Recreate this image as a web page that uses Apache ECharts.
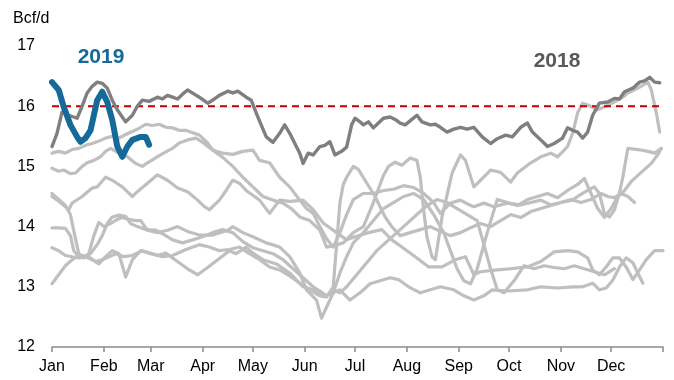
<!DOCTYPE html>
<html>
<head>
<meta charset="utf-8">
<script src="https://cdn.jsdelivr.net/npm/echarts@6/dist/echarts.min.js"></script>
<style>
  html, body { margin: 0; padding: 0; background: #ffffff; }
  #chart { width: 674px; height: 380px; }
</style>
</head>
<body>
<div id="chart"></div>
<script>
// Month axis: labels sit on the first day of each month (day-of-year, 0-based)
const monthLabels = ['Jan', 'Feb', 'Mar', 'Apr', 'May', 'Jun', 'Jul', 'Aug', 'Sep', 'Oct', 'Nov', 'Dec'];
const monthStartDays = [0, 31, 59, 90, 120, 151, 181, 212, 243, 273, 304, 334];
const yearEndDay = 365;

// Value axis range (Bcf/d)
const yMin = 12;
const yMax = 17;
const yStep = 1;

// Reference level drawn as a dashed line
const referenceLevel = 16;

// Current year, [day, Bcf/d]
const year2019 = [
  [0, 16.4], [4, 16.27], [7, 15.99], [11, 15.69], [15, 15.49], [17, 15.41], [20, 15.47],
  [23, 15.6], [25, 15.85], [27, 16.1], [30, 16.24], [33, 16.07], [36, 15.77], [39, 15.33],
  [42, 15.16], [45, 15.33], [48, 15.44], [53, 15.49], [56, 15.49], [58, 15.36]
];

// Previous year, [day, Bcf/d]
const year2018 = [
  [0, 15.33], [3, 15.55], [6, 15.9], [10, 15.85], [15, 15.8], [18, 16.0], [21, 16.22],
  [24, 16.33], [27, 16.4], [30, 16.38], [33, 16.3], [36, 16.1], [39, 15.94], [44, 15.74],
  [48, 15.85], [51, 16.0], [54, 16.1], [58, 16.08], [63, 16.15], [66, 16.12], [69, 16.18],
  [72, 16.15], [75, 16.12], [78, 16.2], [81, 16.27], [85, 16.2], [88, 16.15], [93, 16.05],
  [97, 16.12], [100, 16.18], [105, 16.25], [108, 16.22], [111, 16.25], [116, 16.15],
  [119, 16.1], [123, 15.82], [128, 15.49], [132, 15.4], [136, 15.55], [139, 15.69],
  [142, 15.55], [148, 15.22], [150, 15.05], [153, 15.22], [156, 15.19], [160, 15.33],
  [163, 15.35], [166, 15.41], [169, 15.19], [173, 15.25], [176, 15.32], [179, 15.69],
  [181, 15.8], [184, 15.74], [186, 15.69], [189, 15.74], [192, 15.64], [195, 15.72],
  [198, 15.8], [202, 15.82], [205, 15.78], [208, 15.72], [211, 15.69], [215, 15.78],
  [218, 15.85], [221, 15.74], [226, 15.69], [229, 15.7], [232, 15.65], [236, 15.57],
  [240, 15.62], [244, 15.65], [248, 15.62], [252, 15.65], [257, 15.49], [262, 15.38],
  [266, 15.46], [271, 15.52], [275, 15.49], [280, 15.65], [284, 15.72], [287, 15.57],
  [292, 15.44], [296, 15.33], [300, 15.38], [305, 15.47], [308, 15.64], [311, 15.6],
  [314, 15.57], [317, 15.47], [320, 15.57], [323, 15.85], [327, 16.05], [332, 16.07],
  [336, 16.13], [339, 16.12], [342, 16.24], [347, 16.3], [351, 16.4], [354, 16.42],
  [357, 16.48], [360, 16.4], [363, 16.39]
];

// Earlier years, [day, Bcf/d]
const prior1 = [
  [0, 15.22], [4, 15.25], [8, 15.22], [12, 15.28], [16, 15.3], [20, 15.35], [24, 15.38],
  [28, 15.42], [32, 15.47], [36, 15.5], [40, 15.47], [44, 15.53], [48, 15.58], [52, 15.63],
  [56, 15.7], [60, 15.68], [64, 15.7], [68, 15.65], [72, 15.64], [76, 15.6], [80, 15.6],
  [84, 15.56], [88, 15.52], [93, 15.39], [96, 15.27], [102, 15.15], [108, 15.0],
  [114, 14.82], [120, 14.66], [126, 14.5], [132, 14.44], [138, 14.39], [143, 14.3],
  [148, 14.16], [154, 14.1], [160, 13.94], [164, 13.66], [168, 13.68], [174, 13.73],
  [180, 13.9], [186, 14.0], [192, 14.4], [198, 14.85], [201, 15.0], [205, 15.07],
  [209, 15.02], [214, 15.14], [218, 15.1], [220, 14.82], [222, 14.28], [224, 13.83],
  [227, 13.5], [229, 13.45], [233, 14.16], [239, 14.89], [244, 15.19], [247, 15.1],
  [252, 14.66], [256, 14.77], [262, 14.94], [268, 14.9], [274, 14.74], [278, 14.89],
  [286, 15.06], [292, 15.16], [298, 15.22], [302, 15.16], [308, 15.33], [311, 15.55],
  [314, 15.89], [317, 16.05], [320, 16.02], [326, 15.94], [330, 15.99], [336, 16.07],
  [341, 16.15], [344, 16.22], [350, 16.3], [356, 16.4], [358, 16.27], [361, 15.89],
  [363, 15.57]
];
const prior2 = [
  [0, 14.97], [4, 14.92], [7, 14.94], [11, 14.88], [14, 14.89], [18, 15.0], [21, 15.06],
  [25, 15.1], [29, 15.16], [32, 15.25], [35, 15.3], [40, 15.22], [45, 15.16], [50, 15.05],
  [54, 15.0], [57, 15.06], [60, 15.11], [64, 15.18], [68, 15.24], [72, 15.3], [76, 15.39],
  [81, 15.44], [86, 15.47], [90, 15.4], [94, 15.31], [98, 15.25], [102, 15.22],
  [108, 15.2], [114, 15.25], [120, 15.27], [124, 15.1], [130, 15.06], [136, 14.82],
  [142, 14.66], [148, 14.44], [152, 14.3], [156, 14.22], [160, 14.0], [164, 13.8],
  [168, 13.66], [172, 13.9], [176, 14.2], [180, 14.45], [186, 14.55], [192, 14.55],
  [198, 14.6], [204, 14.62], [210, 14.68], [216, 14.65], [222, 14.55], [228, 14.4],
  [232, 14.22], [238, 14.39], [244, 14.44], [248, 14.38], [252, 14.33], [258, 14.39],
  [264, 14.33], [272, 14.39], [280, 14.36], [286, 14.4], [292, 14.44], [298, 14.36],
  [304, 14.4], [311, 14.44], [315, 14.52], [320, 14.6], [324, 14.66], [327, 14.55],
  [330, 14.22], [333, 14.16], [336, 14.28], [339, 14.56], [341, 14.82], [344, 15.3],
  [350, 15.28], [356, 15.25], [360, 15.22], [364, 15.3]
];
const prior3 = [
  [0, 14.5], [4, 14.42], [8, 14.33], [10, 14.28], [12, 14.39], [18, 14.5], [24, 14.64],
  [27, 14.66], [32, 14.82], [36, 14.77], [42, 14.66], [48, 14.5], [51, 14.58], [57, 14.72],
  [63, 14.86], [69, 14.77], [75, 14.64], [81, 14.58], [87, 14.44], [91, 14.33], [94, 14.28],
  [100, 14.44], [104, 14.6], [108, 14.77], [112, 14.72], [116, 14.6], [124, 14.44],
  [130, 14.22], [136, 14.44], [142, 14.42], [150, 14.44], [156, 14.28], [162, 14.06],
  [170, 13.9], [176, 13.78], [181, 13.83], [189, 13.9], [197, 13.95], [203, 13.78],
  [209, 13.66], [217, 13.5], [225, 13.33], [233, 13.33], [241, 13.45], [247, 13.5],
  [252, 13.2], [256, 13.25], [266, 13.28], [274, 13.3], [284, 13.33], [292, 13.42],
  [300, 13.58], [308, 13.6], [314, 13.58], [320, 13.48], [323, 13.28], [327, 13.2],
  [331, 13.33], [335, 13.48], [339, 13.48], [343, 13.33], [347, 13.12], [351, 13.28],
  [355, 13.45], [360, 13.6], [365, 13.6]
];
const prior4 = [
  [0, 13.98], [4, 13.98], [8, 13.97], [11, 13.85], [13, 13.6], [16, 13.5], [19, 13.48],
  [22, 13.55], [25, 13.85], [28, 14.07], [31, 14.0], [35, 14.05], [39, 14.12], [42, 14.15],
  [46, 14.12], [50, 14.1], [53, 14.1], [57, 13.94], [63, 13.9], [69, 13.94], [75, 14.0],
  [81, 13.92], [88, 13.86], [96, 13.86], [105, 13.94], [108, 14.0], [114, 13.9],
  [120, 13.83], [128, 13.73], [136, 13.66], [142, 13.5], [148, 13.23], [152, 12.95],
  [158, 12.78], [161, 12.48], [164, 12.66], [168, 12.9], [172, 13.23], [176, 13.5],
  [180, 13.73], [186, 13.9], [192, 14.1], [198, 14.3], [204, 14.4], [210, 14.5],
  [216, 14.55], [222, 14.45], [228, 14.2], [234, 13.9], [238, 13.6], [242, 13.3],
  [246, 13.1], [250, 13.05], [254, 13.3], [260, 13.9], [266, 14.45], [272, 14.4],
  [278, 14.35], [284, 14.45], [290, 14.5], [296, 14.55], [302, 14.48], [308, 14.6],
  [314, 14.7], [318, 14.8], [322, 14.55], [326, 14.3], [330, 14.15], [334, 14.3],
  [338, 14.5], [342, 14.6], [346, 14.75], [350, 14.85], [354, 14.95], [358, 15.05],
  [362, 15.2], [364, 15.3]
];
const prior5 = [
  [0, 13.65], [4, 13.6], [8, 13.52], [12, 13.5], [16, 13.48], [20, 13.5], [24, 13.45],
  [28, 13.38], [32, 13.5], [36, 13.6], [40, 13.55], [44, 13.16], [48, 13.45], [53, 13.6],
  [58, 13.56], [63, 13.52], [68, 13.56], [76, 13.4], [82, 13.28], [87, 13.2], [93, 13.32],
  [99, 13.45], [106, 13.6], [110, 13.55], [116, 13.66], [120, 13.56], [126, 13.45],
  [134, 13.38], [142, 13.23], [150, 13.0], [156, 12.95], [164, 12.85], [168, 12.9],
  [172, 12.95], [178, 12.78], [184, 12.9], [190, 13.05], [196, 13.1], [202, 13.15],
  [207, 13.12], [213, 13.0], [220, 12.9], [226, 12.95], [232, 13.0], [240, 12.95],
  [246, 12.85], [252, 12.78], [258, 12.85], [263, 12.95], [272, 12.93], [284, 12.95],
  [292, 13.0], [302, 12.98], [311, 13.0], [317, 13.0], [323, 13.06], [327, 12.95],
  [331, 12.98], [335, 13.11], [339, 13.33], [343, 13.48], [347, 13.4], [351, 13.17],
  [353, 13.06]
];
const prior6 = [
  [0, 13.05], [4, 13.2], [8, 13.35], [12, 13.45], [15, 13.5], [18, 13.52], [22, 13.5],
  [26, 13.42], [30, 13.45], [34, 13.5], [38, 13.55], [43, 13.5], [48, 13.52], [54, 13.6],
  [60, 13.55], [66, 13.5], [72, 13.52], [80, 13.62], [88, 13.7], [94, 13.66], [100, 13.6],
  [106, 13.62], [112, 13.66], [118, 13.55], [124, 13.45], [130, 13.33], [136, 13.28],
  [142, 13.18], [148, 13.06], [154, 12.95], [160, 12.85], [164, 12.83], [168, 13.0],
  [172, 14.4], [174, 14.7], [176, 14.82], [180, 15.0], [183, 14.95], [187, 14.77],
  [193, 14.5], [199, 14.16], [203, 14.0], [208, 13.85], [214, 13.9], [220, 13.95],
  [226, 14.0], [232, 13.92], [238, 13.85], [244, 13.9], [250, 13.98], [256, 14.05],
  [262, 14.0], [268, 14.1], [274, 14.2], [280, 14.15], [286, 14.25], [292, 14.3],
  [298, 14.35], [304, 14.4], [310, 14.45], [316, 14.4], [322, 14.45], [328, 14.55],
  [332, 14.5], [336, 14.48], [340, 14.55], [344, 14.5], [348, 14.4]
];
const prior7 = [
  [0, 14.55], [4, 14.45], [8, 14.35], [11, 14.2], [14, 13.8], [16, 13.55], [19, 13.5],
  [23, 13.55], [27, 13.7], [30, 13.85], [33, 14.05], [36, 14.16], [40, 14.19], [44, 14.17],
  [47, 14.05], [51, 14.0], [56, 13.95], [62, 13.94], [68, 13.85], [72, 13.78], [78, 13.73],
  [84, 13.78], [90, 13.83], [96, 13.9], [102, 13.95], [108, 13.9], [114, 13.75],
  [120, 13.65], [126, 13.6], [132, 13.55], [138, 13.45], [144, 13.3], [150, 13.15],
  [156, 13.0], [160, 12.93], [164, 12.85], [168, 12.95], [172, 12.9], [176, 13.0],
  [182, 13.2], [188, 13.4], [194, 13.6], [200, 13.75], [206, 13.9], [212, 14.05],
  [218, 14.2], [224, 14.35], [230, 14.45], [236, 14.4], [242, 14.3], [248, 14.2],
  [254, 14.1], [258, 13.7], [262, 13.3], [266, 12.95], [270, 12.9], [276, 13.1],
  [282, 13.35], [288, 13.3], [294, 13.35], [300, 13.32], [306, 13.3], [312, 13.35],
  [318, 13.3], [324, 13.25], [330, 13.2], [336, 13.3]
];
const priorYears = [prior1, prior2, prior3, prior4, prior5, prior6, prior7];

const fontFamily = "'Liberation Sans', Arial, sans-serif";
const chart = echarts.init(document.getElementById('chart'), null, { renderer: 'canvas' });

function lineSeries(data, color, width, z) {
  return {
    type: 'line',
    data: data,
    showSymbol: false,
    symbol: 'none',
    smooth: false,
    silent: true,
    z: z,
    lineStyle: { color: color, width: width, cap: 'round', join: 'round' }
  };
}

const series = priorYears.map(d => lineSeries(d, '#bfbfbf', 3.2, 2));
series.push({
  type: 'line',
  data: [[0, referenceLevel], [yearEndDay + 5, referenceLevel]],
  showSymbol: false,
  symbol: 'none',
  silent: true,
  clip: false,
  z: 3,
  lineStyle: { color: '#c00000', width: 2, type: [7, 5] }
});
series.push(lineSeries(year2018, '#7f7f7f', 3.4, 4));
series.push(lineSeries(year2019, '#156a99', 6, 5));

chart.setOption({
  animation: false,
  backgroundColor: '#ffffff',
  grid: { left: 52, right: 11, top: 46, bottom: 33, containLabel: false },
  xAxis: {
    type: 'value',
    min: 0,
    max: yearEndDay,
    splitLine: { show: false },
    axisLine: { show: true, lineStyle: { color: '#8c8c8c', width: 1.5 } },
    axisTick: {
      show: true, length: 5, inside: false,
      customValues: monthStartDays.concat([yearEndDay]),
      lineStyle: { color: '#8c8c8c', width: 1.5 }
    },
    axisLabel: {
      customValues: monthStartDays,
      formatter: v => monthLabels[monthStartDays.indexOf(v)],
      color: '#000000', fontSize: 16, fontFamily: fontFamily, margin: 12
    }
  },
  yAxis: {
    type: 'value',
    min: yMin,
    max: yMax,
    interval: yStep,
    splitLine: { show: false },
    axisLine: { show: false },
    axisTick: { show: false },
    axisLabel: { color: '#000000', fontSize: 16, fontFamily: fontFamily, margin: 17 }
  },
  graphic: [
    { type: 'text', left: 13, top: 11, style: { text: 'Bcf/d', fill: '#000000', font: '16px ' + fontFamily } },
    { type: 'text', x: 101, y: 57, style: { text: '2019', fill: '#156a99', font: 'bold 21px ' + fontFamily, textAlign: 'center', textVerticalAlign: 'middle' } },
    { type: 'text', x: 557, y: 61, style: { text: '2018', fill: '#595959', font: 'bold 21px ' + fontFamily, textAlign: 'center', textVerticalAlign: 'middle' } }
  ],
  series: series
});
</script>
</body>
</html>
